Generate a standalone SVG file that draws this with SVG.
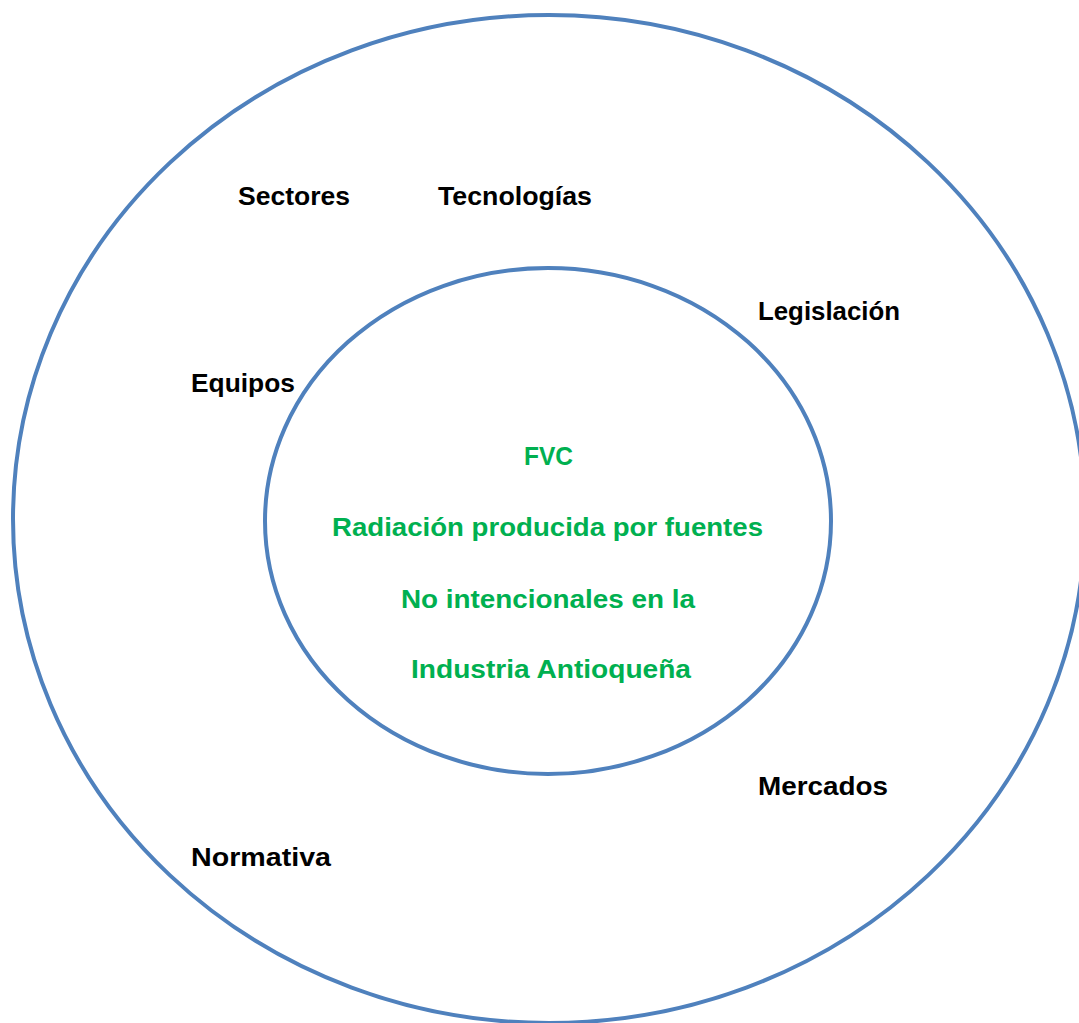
<svg xmlns="http://www.w3.org/2000/svg" width="1079" height="1023" viewBox="0 0 1079 1023">
<style>
.ring{fill:none;stroke:#4F81BD;stroke-width:4}
.lbl{font-family:"Liberation Sans",Arial,sans-serif;font-weight:bold;font-size:26px;fill:#000}
.ctr{font-family:"Liberation Sans",Arial,sans-serif;font-weight:bold;font-size:26px;fill:#00B050}
</style>
<rect width="1079" height="1023" fill="#fff"/>
<g id="outer"><ellipse class="ring" cx="549" cy="519" rx="536" ry="504"/></g>
<g id="inner"><ellipse class="ring" cx="548" cy="521" rx="283" ry="253"/></g>
<g id="connectors"></g>
<g id="sectores"><text class="lbl" x="238" y="205" textLength="112" lengthAdjust="spacingAndGlyphs">Sectores</text></g>
<g id="tecnologias"><text class="lbl" x="438" y="205" textLength="154" lengthAdjust="spacingAndGlyphs">Tecnologías</text></g>
<g id="legislacion"><text class="lbl" x="758" y="320" textLength="142" lengthAdjust="spacingAndGlyphs">Legislación</text></g>
<g id="equipos"><text class="lbl" x="191" y="392" textLength="104" lengthAdjust="spacingAndGlyphs">Equipos</text></g>
<g id="mercados"><text class="lbl" x="758" y="795" textLength="130" lengthAdjust="spacingAndGlyphs">Mercados</text></g>
<g id="normativa"><text class="lbl" x="191" y="866" textLength="140" lengthAdjust="spacingAndGlyphs">Normativa</text></g>
<g id="center">
<text class="ctr" x="524" y="465" textLength="49" lengthAdjust="spacingAndGlyphs">FVC</text>
<text class="ctr" x="332" y="536" textLength="431" lengthAdjust="spacingAndGlyphs">Radiación producida por fuentes</text>
<text class="ctr" x="401" y="608" textLength="294" lengthAdjust="spacingAndGlyphs">No intencionales en la</text>
<text class="ctr" x="411" y="678" textLength="280" lengthAdjust="spacingAndGlyphs">Industria Antioqueña</text>
</g>
</svg>
